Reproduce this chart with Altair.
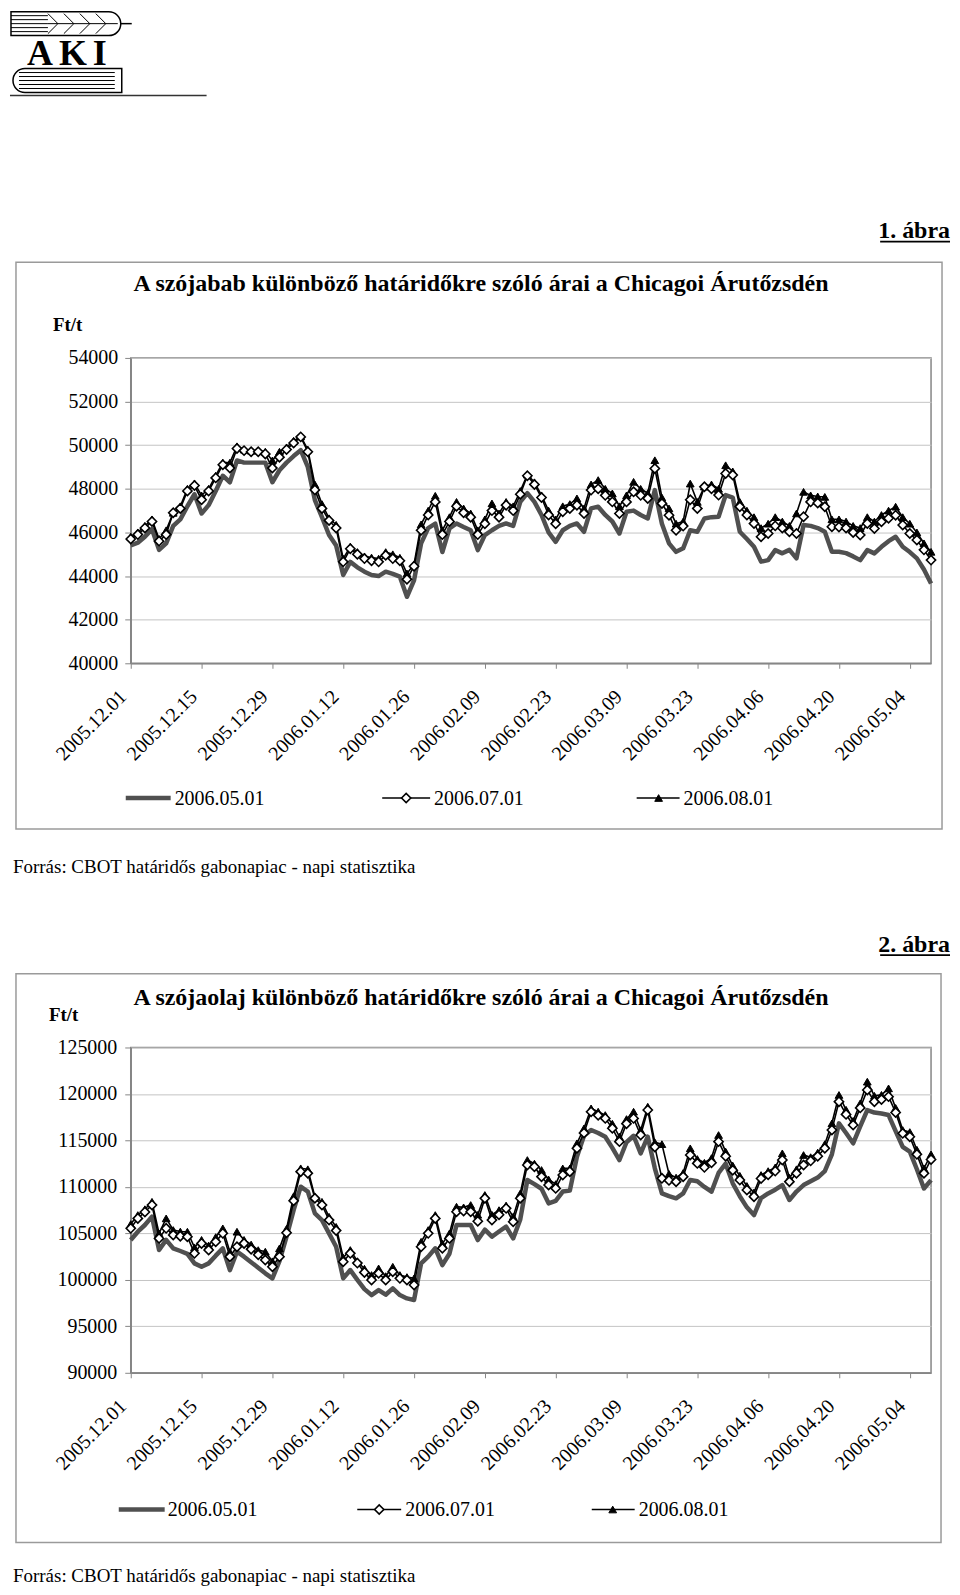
import altair as alt
import pandas as pd

# ---------------- categories ----------------
dates = [d.strftime("%Y.%m.%d") for d in pd.bdate_range("2005-12-01", periods=114)]
tick_dates = dates[::10]
series_names = ["2006.05.01", "2006.07.01", "2006.08.01"]

# ---------------- chart 1: soybean (Ft/t) ----------------
bab_0501 = [45400, 45530, 45800, 46150, 45200, 45500, 46300, 46600, 47200, 47750,
            46870, 47250, 47900, 48600, 48300, 49300, 49200, 49200, 49200, 49200,
            48300, 48850, 49200, 49500, 49770, 49000, 47480, 46700, 45880, 45400,
            44050, 44650, 44400, 44200, 44050, 44000, 44200, 44100, 43970, 43050,
            43800, 45500, 46200, 46400, 45100, 46180, 46410, 46250, 46100, 45190,
            45880, 46100, 46300, 46410, 46300, 47400, 47800, 47400, 46800, 46000,
            45570, 46100, 46300, 46410, 46030, 47100, 47180, 46800, 46500, 45950,
            46950, 47000, 46800, 46640, 47940, 46400, 45500, 45110, 45270, 46100,
            46030, 46640, 46700, 46720, 47710, 47600, 46030, 45700, 45340, 44660,
            44730, 45190, 45040, 45200, 44810, 46340, 46300, 46200, 46030, 45110,
            45110, 45050, 44900, 44730, 45190, 45040, 45340, 45600, 45800, 45340,
            45100, 44810, 44300, 43660]
bab_0701 = [45700, 45900, 46200, 46500, 45600, 45900, 46900, 47100, 47900, 48150,
            47500, 47900, 48500, 49100, 48950, 49850, 49750, 49700, 49700, 49600,
            48950, 49450, 49800, 50100, 50380, 49700, 47950, 47100, 46550, 46200,
            44650, 45250, 45000, 44800, 44700, 44650, 44950, 44800, 44700, 43850,
            44450, 46100, 46800, 47400, 45900, 46500, 47200, 46900, 46700, 45900,
            46400, 47000, 46700, 47250, 47000, 47750, 48600, 48200, 47600, 46800,
            46400, 46950, 47100, 47250, 46870, 47940, 48000, 47700, 47400, 46870,
            47400, 47860, 47700, 47560, 48930, 47330, 46790, 46100, 46290, 47500,
            47100, 48090, 48000, 47710, 48700, 48630, 47180, 46800, 46410, 45800,
            45950, 46300, 46200, 46030, 45950, 46720, 47400, 47350, 47180, 46260,
            46250, 46200, 46000, 45880, 46410, 46180, 46490, 46650, 46790, 46340,
            45950, 45650, 45200, 44730]
bab_0801 = [45800, 46000, 46300, 46600, 45700, 46100, 46900, 47200, 48000, 48250,
            47700, 48000, 48600, 49200, 49200, 49950, 49800, 49750, 49750, 49700,
            49300, 49700, 49900, 50200, 50400, 49800, 48200, 47300, 46650, 46350,
            44800, 45350, 45100, 44900, 44850, 44800, 45100, 45000, 44840, 44120,
            44530, 46370, 47000, 47680, 46100, 46700, 47400, 47100, 46870, 46100,
            46600, 47330, 46870, 47400, 47200, 47900, 48650, 48300, 47700, 47000,
            46600, 47200, 47300, 47560, 47100, 48200, 48400, 48000, 47790, 47200,
            47700, 48320, 48000, 47800, 49310, 47600, 47100, 46400, 46500, 48240,
            47400, 48100, 48200, 48000, 49080, 48800, 47400, 47000, 46700, 46200,
            46400, 46700, 46500, 46300, 46870, 47860, 47700, 47650, 47630, 46600,
            46600, 46500, 46300, 46200, 46700, 46500, 46800, 47000, 47180, 46700,
            46400, 46000, 45500, 45110]

# ---------------- chart 2: soybean oil (Ft/t) ----------------
olaj_0501 = [104280, 105180, 105900, 106800, 103200, 104300, 103390, 103100, 102800, 101770,
             101400, 101770, 102600, 103390, 101050, 103030, 102490, 101900, 101300, 100700,
             100160, 102000, 104640, 107500, 110020, 109500, 107150, 106430, 105000, 103560,
             100160, 101050, 100000, 99000, 98360, 98900, 98400, 99080, 98360, 98000,
             97830, 101770, 102500, 103390, 101590, 102800, 105900, 105900, 105900, 104280,
             105400, 104640, 105200, 105720, 104460, 106500, 110740, 110300, 109800, 108230,
             108500, 109500, 109600, 113250, 115500, 116120, 115800, 115400, 114200, 112890,
             114800, 115500, 113610, 115400, 112000, 109300, 109000, 108770, 109300, 110740,
             110600, 110000, 109480, 111500, 112500, 110380, 109000, 107800, 106970, 108800,
             109300, 109700, 110200, 108590, 109500, 110200, 110600, 111000, 111700, 113500,
             116840, 115800, 114690, 116500, 118270, 118000, 117900, 117730, 116000, 114300,
             113790, 111900, 109830, 110730]
olaj_0701 = [105540, 106610, 107300, 108050, 104460, 105540, 104820, 104700, 104640, 102850,
             103920, 103210, 104100, 105000, 102490, 103560, 103920, 103300, 102700, 102130,
             101410, 102490, 105070, 108500, 111640, 111460, 108770, 108050, 106430, 105300,
             101950, 102850, 101800, 100800, 99980, 100700, 99980, 100880, 100160, 99980,
             99440, 103560, 105000, 106610, 103390, 104460, 107330, 107400, 107330, 106300,
             108770, 106430, 107000, 107690, 106250, 108770, 112350, 112170, 111100, 110200,
             109840, 111280, 111640, 114150, 115800, 118090, 117700, 117370, 116300, 114870,
             116800, 117370, 115580, 118270, 114300, 110920, 110700, 110560, 111100, 113430,
             112530, 112100, 112600, 114870, 113300, 111800, 110740, 109660, 108950, 110900,
             111300, 111700, 112890, 110560, 111460, 112350, 112800, 113300, 114150, 116120,
             119170, 117800, 116660, 118500, 120420, 119170, 119400, 119710, 118000, 115760,
             115400, 113500, 111460, 112950]
olaj_0801 = [106000, 106970, 107600, 108400, 105000, 106610, 105360, 105200, 105180, 103500,
             104300, 103700, 104600, 105540, 103000, 105180, 104300, 103800, 103200, 103030,
             102000, 103390, 105500, 109000, 112000, 111900, 108950, 108400, 106790, 105700,
             102400, 103210, 102000, 101200, 100520, 101230, 100400, 101410, 100520, 100300,
             100160, 104100, 105360, 106970, 103900, 105000, 107870, 107800, 108050, 107000,
             109130, 107000, 107500, 108000, 106800, 109300, 112890, 112500, 111820, 110800,
             110300, 111990, 112000, 114690, 116300, 118450, 118100, 117730, 116800, 115400,
             117300, 118090, 116100, 118630, 114800, 114600, 111400, 111000, 111500, 114150,
             113000, 112600, 113100, 115580, 113800, 112300, 111200, 110100, 109400, 111280,
             111700, 112100, 113610, 111000, 111900, 113430, 113200, 113700, 114600, 116840,
             119890, 118300, 117100, 118990, 121320, 119800, 119900, 120600, 118500, 116120,
             115900, 114000, 112000, 113500]

for arr in (bab_0501, bab_0701, bab_0801, olaj_0501, olaj_0701, olaj_0801):
    assert len(arr) == len(dates), len(arr)

bab_ticks = [40000, 42000, 44000, 46000, 48000, 50000, 52000, 54000]
olaj_ticks = [90000, 95000, 100000, 105000, 110000, 115000, 120000, 125000]

title1 = "A szójabab különböző határidőkre szóló árai a Chicagoi Árutőzsdén"
title2 = "A szójaolaj különböző határidőkre szóló árai a Chicagoi Árutőzsdén"
unit = "Ft/t"
source = "Forrás: CBOT határidős gabonapiac - napi statisztika"

# ---------------- styling ----------------
FONT = "Liberation Serif"
AX = "#868686"
GRID = "#c4c4c4"
BOX = "#9a9a9a"
LINE_GRAY = "#505050"
W = 802
O1 = (129, 356)    # page position of plot 1
O2 = (129, 1047)   # page position of plot 2
H1, H2 = 306, 326
LX, LY = 0, 1      # logo offset (logo is the top-left extreme of the page)


def one_row():
    return alt.Data(values=[{"k": 0}])


def txt(s, x, y, o, size, bold=False, align="left", baseline="alphabetic"):
    return alt.Chart(one_row()).mark_text(
        text=s, font=FONT, fontSize=size, fontWeight="bold" if bold else "normal",
        align=align, baseline=baseline, color="black"
    ).encode(x=alt.value(x - o[0]), y=alt.value(y - o[1]))


def seg(x1, y1, x2, y2, o, color="black", width=1.0):
    return alt.Chart(one_row()).mark_rule(color=color, strokeWidth=width).encode(
        x=alt.value(x1 - o[0]), y=alt.value(y1 - o[1]),
        x2=alt.value(x2 - o[0]), y2=alt.value(y2 - o[1]))


def box(x1, y1, x2, y2, o, color, width, **kw):
    return alt.Chart(one_row()).mark_rect(
        fill="transparent", stroke=color, strokeWidth=width, **kw
    ).encode(x=alt.value(x1 - o[0]), y=alt.value(y1 - o[1]),
             x2=alt.value(x2 - o[0]), y2=alt.value(y2 - o[1]))


def sym(shape, fill, x, y, o, size, sw):
    return alt.Chart(one_row()).mark_point(
        shape=shape, filled=True, fill=fill, stroke="black", strokeWidth=sw,
        size=size, opacity=1
    ).encode(x=alt.value(x - o[0]), y=alt.value(y - o[1]))


def data_layers(vals, ydomain, yticks, ypad):
    x = alt.X("date:O", sort=None, scale=alt.Scale(type="point", padding=0),
              axis=alt.Axis(values=tick_dates, title=None, labelAngle=-45,
                            labelAlign="right", labelBaseline="middle",
                            labelOffset=-8, labelPadding=25, tickSize=5,
                            labelFont=FONT, labelFontSize=20, labelColor="black",
                            domainColor=AX, domainWidth=1.5, tickColor=AX, tickWidth=1,
                            grid=False, labelOverlap=False, labelFlush=False))
    y = alt.Y("value:Q", scale=alt.Scale(domain=ydomain, nice=False, zero=False),
              axis=alt.Axis(values=yticks, format="d", title=None, grid=True,
                            gridColor=GRID, gridWidth=1,
                            labelFont=FONT, labelFontSize=20, labelColor="black",
                            domainColor=AX, domainWidth=1.5, tickColor=AX, tickWidth=1,
                            tickSize=6, labelPadding=ypad,
                            labelOverlap=False, labelFlush=False))
    frames = [pd.DataFrame({"date": dates, "value": v}) for v in vals]
    a_line = alt.Chart(frames[0]).mark_line(
        color=LINE_GRAY, strokeWidth=4.5, strokeJoin="round").encode(x=x, y=y)
    c_line = alt.Chart(frames[2]).mark_line(
        color="black", strokeWidth=1.6).encode(x=x, y=y)
    c_pts = alt.Chart(frames[2]).mark_point(
        shape="triangle-up", filled=True, fill="black", stroke="black",
        strokeWidth=1, size=60, opacity=1).encode(x=x, y=y)
    b_line = alt.Chart(frames[1]).mark_line(
        color="black", strokeWidth=1.6).encode(x=x, y=y)
    b_pts = alt.Chart(frames[1]).mark_point(
        shape="diamond", filled=True, fill="white", stroke="black",
        strokeWidth=1.6, size=85, opacity=1).encode(x=x, y=y)
    return [a_line, c_line, c_pts, b_line, b_pts]


def legend(o, y, a_spec, b_spec, c_spec):
    out = []
    x1, x2, xt = a_spec
    out.append(seg(x1, y, x2, y, o, LINE_GRAY, 4.5))
    out.append(txt(series_names[0], xt, y + 1, o, 20, baseline="middle"))
    x1, x2, xm, xt = b_spec
    out.append(seg(x1, y, x2, y, o, "black", 1.6))
    out.append(sym("diamond", "white", xm, y, o, 85, 1.6))
    out.append(txt(series_names[1], xt, y + 1, o, 20, baseline="middle"))
    x1, x2, xm, xt = c_spec
    out.append(seg(x1, y, x2, y, o, "black", 1.6))
    out.append(sym("triangle-up", "black", xm, y, o, 60, 1))
    out.append(txt(series_names[2], xt, y + 1, o, 20, baseline="middle"))
    return out


def logo(o):
    o = (o[0] - LX, o[1] - LY)
    parts = []
    # wheat ear
    parts.append(box(9, 8, 119, 32, o, "black", 1.5,
                     cornerRadiusTopRight=12, cornerRadiusBottomRight=12))
    for yy in (12, 16, 20, 24, 28):
        parts.append(seg(9, yy, 46, yy, o, "black", 1))
    parts.append(seg(46, 20, 116, 20, o, "black", 1))
    for xc in (56, 72, 88, 104):
        parts.append(seg(xc - 10, 10, xc, 20, o, "black", 1))
        parts.append(seg(xc - 10, 30, xc, 20, o, "black", 1))
    parts.append(seg(119, 20, 130, 20, o, "black", 1.5))
    # letters
    parts.append(txt("A", 25, 61, o, 36, bold=True))
    parts.append(txt("K", 57, 61, o, 36, bold=True))
    parts.append(txt("I", 91, 61, o, 36, bold=True))
    # book
    parts.append(box(11, 65, 120, 89, o, "black", 1.5,
                     cornerRadiusTopLeft=12, cornerRadiusBottomLeft=12))
    for yy in (69, 73, 77, 81, 85):
        parts.append(seg(17, yy, 113, yy, o, "black", 1))
    parts.append(seg(8, 92, 205, 92, o, "#333333", 1.5))
    return parts


# ---------------- panel 1 ----------------
p1_layers = []
p1_layers += logo(O1)
p1_layers.append(box(14, 260, 942, 828, O1, BOX, 1.5))
p1_layers.append(txt("1. ábra", 950, 236, O1, 24, bold=True, align="right"))
p1_layers.append(seg(880, 239.5, 950, 239.5, O1, "black", 1.8))
p1_layers.append(txt(title1, 480, 289, O1, 24, bold=True, align="center"))
p1_layers.append(txt(unit, 51, 329, O1, 19, bold=True))
p1_layers += data_layers([bab_0501, bab_0701, bab_0801], [40000, 54000], bab_ticks, 7)
p1_layers += legend(O1, 797, (124, 169, 173), (381, 429, 405, 433), (636, 679, 658, 683))
p1_layers.append(txt(source, 11, 872, O1, 19))
panel1 = alt.layer(*p1_layers).properties(width=W, height=H1)

# ---------------- panel 2 ----------------
p2_layers = []
p2_layers.append(box(14, 973, 941, 1543, O2, BOX, 1.5))
p2_layers.append(txt("2. ábra", 950, 951, O2, 24, bold=True, align="right"))
p2_layers.append(seg(880, 954.5, 950, 954.5, O2, "black", 1.8))
p2_layers.append(txt(title2, 480, 1004, O2, 24, bold=True, align="center"))
p2_layers.append(txt(unit, 47, 1020, O2, 19, bold=True))
p2_layers += data_layers([olaj_0501, olaj_0701, olaj_0801], [90000, 125000], olaj_ticks, 8)
p2_layers += legend(O2, 1510, (117, 163, 166), (356, 400, 378, 404), (591, 634, 612, 638))
p2_layers.append(txt(source, 11, 1583, O2, 19))
panel2 = alt.layer(*p2_layers).properties(width=W, height=H2)

chart = (
    alt.vconcat(panel1, panel2, spacing=O2[1] - O1[1] - H1, bounds="flush")
    .resolve_scale(x="independent", y="independent")
    .properties(padding=0, background="white")
    .configure_view(stroke=AX, strokeWidth=1.5)
    .configure_axis(labelFont=FONT, labelFontSize=20, labelColor="black",
                    domainColor=AX, domainWidth=1.5, tickColor=AX, tickWidth=1,
                    gridColor=GRID, gridWidth=1)
)

chart.save("out.html", embed_options={"renderer": "svg", "actions": False})
